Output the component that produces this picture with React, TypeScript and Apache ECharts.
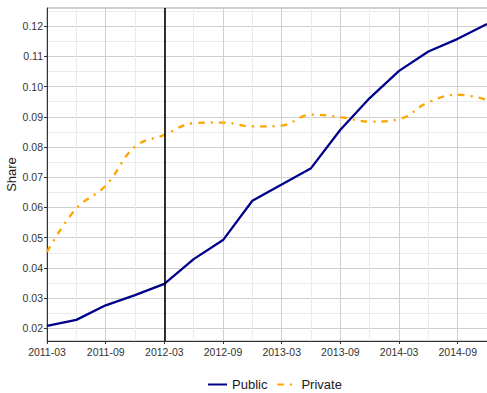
import React, { useEffect, useRef } from "react";
import * as echarts from "echarts";

const quarters = [
  "2011-03", "2011-06", "2011-09", "2011-12",
  "2012-03", "2012-06", "2012-09", "2012-12",
  "2013-03", "2013-06", "2013-09", "2013-12",
  "2014-03", "2014-06", "2014-09", "2014-12",
];
const publicShare = [
  0.0208, 0.0228, 0.0276, 0.0310, 0.0347, 0.0429, 0.0492, 0.0622,
  0.0676, 0.0730, 0.0857, 0.0962, 0.1052, 0.1116, 0.1158, 0.1207,
];
const privateShare = [
  0.0453, 0.0597, 0.0672, 0.0801, 0.0840, 0.0879, 0.0881, 0.0868,
  0.0871, 0.0907, 0.0899, 0.0884, 0.0892, 0.0948, 0.0973, 0.0956,
];
const seriesNames = ["Public", "Private"];
const markerDate = "2012-03";
const startYear = 2011;
const startMonth = 3;

const toIndex = (s: string) => {
  const [y, m] = s.split("-").map(Number);
  return (y - startYear) * 12 + (m - startMonth);
};
const toLabel = (v: number) => {
  const total = startMonth - 1 + Math.round(v);
  const y = startYear + Math.floor(total / 12);
  const m = (total % 12) + 1;
  return `${y}-${String(m).padStart(2, "0")}`;
};

const FONT = "Liberation Sans";

export default function App() {
  const ref = useRef<HTMLDivElement>(null);
  useEffect(() => {
    if (!ref.current) return;
    const chart = echarts.init(ref.current, null, { renderer: "svg" });
    const pubData = quarters.map((q, i) => [toIndex(q), publicShare[i]]);
    const privData = quarters.map((q, i) => [toIndex(q), privateShare[i]]);
    chart.setOption({
      animation: false,
      backgroundColor: "#ffffff",
      textStyle: { fontFamily: FONT },
      grid: {
        left: 47,
        top: 8,
        width: 443,
        bottom: 52,
        show: true,
        borderColor: "#9a9a9a",
        borderWidth: 1,
        containLabel: false,
        outerBoundsMode: "none",
      },
      legend: {
        left: 202,
        top: 373,
        itemWidth: 19,
        itemHeight: 10,
        itemGap: 9,
        itemStyle: { opacity: 0, borderWidth: 0 },
        textStyle: { fontSize: 13, color: "#1a1a1a", fontFamily: FONT },
        data: seriesNames,
      },
      xAxis: {
        type: "value",
        min: 0,
        max: toIndex("2014-12") + 0.3,
        interval: 6,
        axisLine: { show: true, lineStyle: { color: "#333333", width: 1 } },
        axisTick: { show: true, length: 3, lineStyle: { color: "#333333" } },
        axisLabel: {
          fontSize: 10.5,
          color: "#333333",
          margin: 5,
          fontFamily: FONT,
          showMaxLabel: false,
          formatter: (v: number) => toLabel(v),
        },
        splitLine: { show: true, lineStyle: { color: "#d0d0d0", width: 1 } },
        minorTick: { show: false, splitNumber: 2 },
        minorSplitLine: { show: true, lineStyle: { color: "#ebebeb", width: 1 } },
      },
      yAxis: {
        type: "value",
        min: 0.0158,
        max: 0.126,
        minInterval: 0.01,
        maxInterval: 0.01,
        name: "Share",
        nameLocation: "middle",
        nameGap: 29,
        nameRotate: 90,
        nameMoveOverlap: false,
        nameTextStyle: { fontSize: 13, color: "#1a1a1a", fontFamily: FONT },
        axisLine: { show: true, lineStyle: { color: "#333333", width: 1 } },
        axisTick: { show: true, length: 3, lineStyle: { color: "#333333" } },
        axisLabel: {
          fontSize: 10.5,
          color: "#333333",
          margin: 4,
          fontFamily: FONT,
          showMinLabel: false,
          showMaxLabel: false,
          formatter: (v: number) => v.toFixed(2),
        },
        splitLine: { show: true, lineStyle: { color: "#d0d0d0", width: 1 } },
        minorTick: { show: false, splitNumber: 2 },
        minorSplitLine: { show: true, lineStyle: { color: "#ebebeb", width: 1 } },
      },
      series: [
        {
          name: seriesNames[0],
          type: "line",
          data: pubData,
          symbol: "none",
          color: "#00008b",
          lineStyle: { color: "#00008b", width: 2.3 },
          z: 3,
          markLine: {
            silent: true,
            symbol: ["none", "none"],
            label: { show: false },
            lineStyle: { color: "#000000", width: 1.6, type: "solid" },
            data: [{ xAxis: toIndex(markerDate) }],
          },
        },
        {
          name: seriesNames[1],
          type: "line",
          data: privData,
          symbol: "none",
          smooth: 0.4,
          color: "#ffa500",
          lineStyle: {
            color: "#ffa500",
            width: 2.3,
            type: [6.5, 6, 2.2, 6],
            cap: "butt",
          },
          z: 2,
        },
      ],
    });
    return () => chart.dispose();
  }, []);
  return (
    <div
      ref={ref}
      style={{ position: "fixed", left: 0, top: 0, width: 487, height: 393 }}
    />
  );
}
